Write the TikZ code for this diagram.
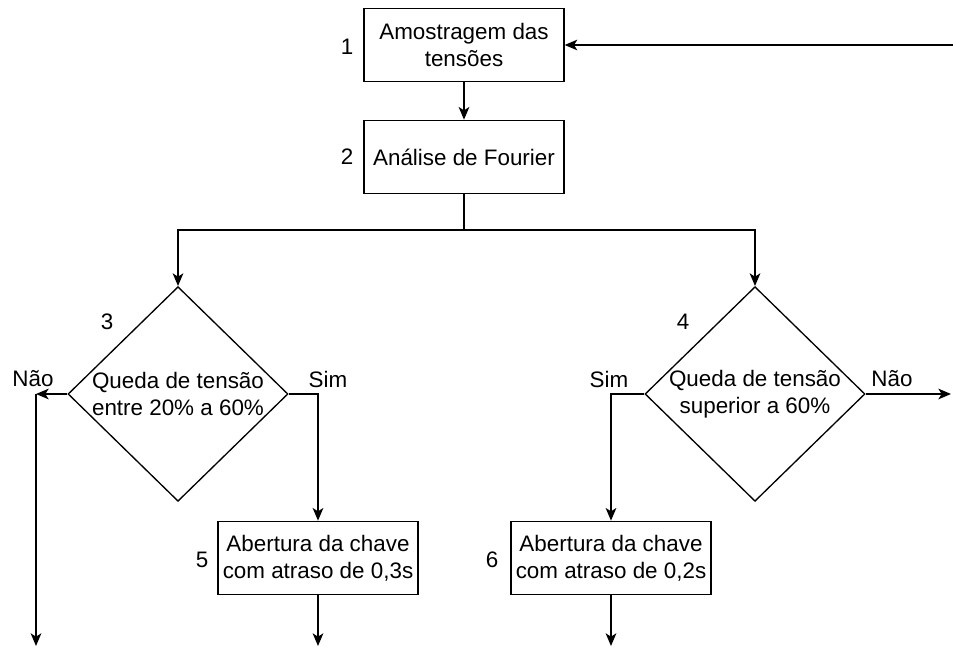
\documentclass[tikz,border=0pt]{standalone}
\usepackage{fontspec}
\setmainfont{Liberation Sans}
\usetikzlibrary{shapes.geometric,arrows.meta}

\begin{document}
\begin{tikzpicture}
  [x=0.75pt,y=-0.75pt,line width=1pt,>={Stealth[length=9.5pt,width=8pt,inset=2.5pt]},
   every node/.style={font=\fontsize{16.8}{20.5}\selectfont,inner sep=0pt,align=center},
   box/.style={draw,rectangle,minimum width=150pt,minimum height=55pt},
   dec/.style={draw,diamond,minimum width=165pt,minimum height=161pt}]
  \useasboundingbox (0,0) rectangle (953,648);
  % etapas
  \node[box] (n1) at (464,45) {Amostragem das\\tensões};
  \node[box] (n2) at (464,157) {Análise de Fourier};
  \node[dec] (d3) at (178,394) {};
  \node (t3) at (d3) {Queda de tensão\\entre 20\% a 60\%};
  \node[dec] (d4) at (755,394) {};
  \node (t4) at (d4) {Queda de tensão\\superior a 60\%};
  \node[box] (n5) at (318,558) {Abertura da chave\\com atraso de 0,3s};
  \node[box] (n6) at (611,558) {Abertura da chave\\com atraso de 0,2s};
  % numeros
  \node (k1) at (347,47) {1};
  \node (k2) at (347,157) {2};
  \node (k3) at (107,322) {3};
  \node (k4) at (683,322) {4};
  \node (k5) at (202,560) {5};
  \node (k6) at (492,560) {6};
  % respostas
  \node (s3) at (328,379) {Sim};
  \node (r3) at (33,379) {Não};
  \node (s4) at (609,379) {Sim};
  \node (r4) at (892,379) {Não};
  % pontas livres
  \coordinate (e1) at (953,45);
  \coordinate (j2) at (464,230);
  \coordinate (c3) at (36,394);
  \coordinate (o3) at (36,646);
  \coordinate (o4) at (951,394);
  \coordinate (o5) at (318,646);
  \coordinate (o6) at (611,646);
\foreach \from/\to in {e1/n1.east,n1/n2,d3.west/c3,c3/o3,d4.east/o4,n5/o5,n6/o6}
    \draw[->] (\from) -- (\to);
  \draw (n2) -- (j2);
  \draw[->] (j2) -| (d3.north);
  \draw[->] (j2) -| (d4.north);
  \draw[->] (d3.east) -| (n5.north);
  \draw[->] (d4.west) -| (n6.north);
\end{tikzpicture}
\end{document}
